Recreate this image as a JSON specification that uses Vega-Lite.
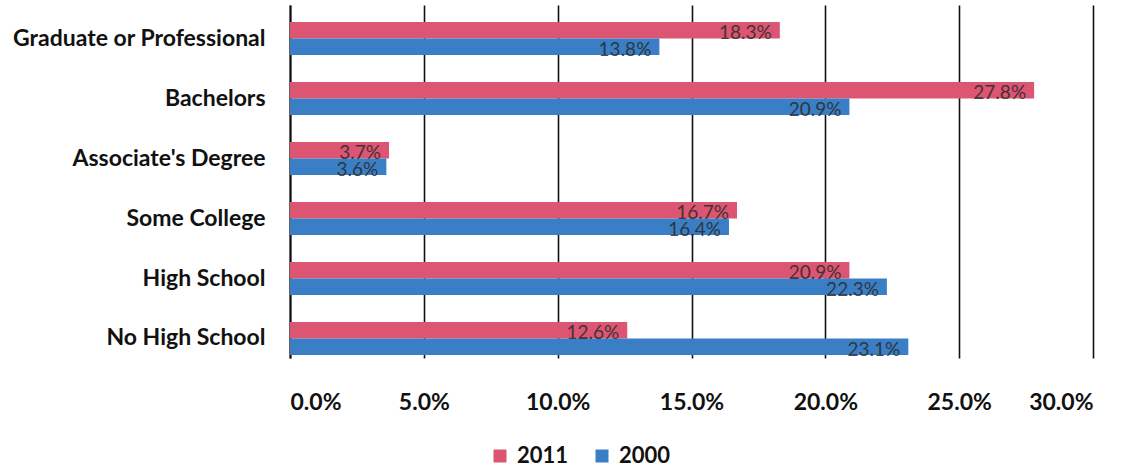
{
  "$schema": "https://vega.github.io/schema/vega-lite/v6.json",
  "width": 803,
  "height": 353,
  "padding": {"left": 5, "top": 5, "right": 30, "bottom": 0},
  "background": "white",
  "config": {
    "view": {"stroke": null},
    "font": "Lato"
  },
  "data": {
    "values": [
      {"level": "Graduate or Professional", "year": "2011", "pct": 0.183},
      {"level": "Graduate or Professional", "year": "2000", "pct": 0.138},
      {"level": "Bachelors", "year": "2011", "pct": 0.278},
      {"level": "Bachelors", "year": "2000", "pct": 0.209},
      {"level": "Associate's Degree", "year": "2011", "pct": 0.037},
      {"level": "Associate's Degree", "year": "2000", "pct": 0.036},
      {"level": "Some College", "year": "2011", "pct": 0.167},
      {"level": "Some College", "year": "2000", "pct": 0.164},
      {"level": "High School", "year": "2011", "pct": 0.209},
      {"level": "High School", "year": "2000", "pct": 0.223},
      {"level": "No High School", "year": "2011", "pct": 0.126},
      {"level": "No High School", "year": "2000", "pct": 0.231}
    ]
  },
  "encoding": {
    "y": {
      "field": "level",
      "type": "nominal",
      "sort": ["Graduate or Professional", "Bachelors", "Associate's Degree", "Some College", "High School", "No High School"],
      "scale": {"paddingInner": 0.45, "paddingOuter": 0.167, "align": 0.85},
      "axis": {
        "title": null,
        "ticks": false,
        "domain": true,
        "domainColor": "#111",
        "domainWidth": 2,
        "labelFontSize": 23,
        "labelFontWeight": "bold",
        "labelColor": "#111",
        "labelPadding": 25,
        "minExtent": 285,
        "maxExtent": 285,
        "labelLimit": 300
      }
    },
    "yOffset": {"field": "year", "type": "nominal", "sort": ["2011", "2000"]},
    "x": {
      "field": "pct",
      "type": "quantitative",
      "scale": {"domain": [0, 0.3], "nice": false},
      "axis": {
        "title": null,
        "values": [0, 0.05, 0.1, 0.15, 0.2, 0.25, 0.3],
        "format": ".1%",
        "grid": true,
        "gridColor": "#111",
        "gridWidth": 1.6,
        "domain": false,
        "ticks": false,
        "labelFontSize": 23,
        "labelFontWeight": "bold",
        "labelColor": "#111",
        "labelPadding": 33
      }
    }
  },
  "layer": [
    {
      "mark": {"type": "bar", "strokeWidth": 1},
      "encoding": {
        "color": {
          "field": "year",
          "type": "nominal",
          "sort": ["2011", "2000"],
          "scale": {"domain": ["2011", "2000"], "range": ["#dc5673", "#3a7fc5"]},
          "legend": {
            "title": null,
            "orient": "none",
            "direction": "horizontal",
            "legendX": 199,
            "legendY": 440,
            "symbolType": "square",
            "symbolSize": 169,
            "symbolStrokeWidth": 0,
            "labelFontSize": 22,
            "labelFontWeight": "bold",
            "labelColor": "#111",
            "columnPadding": 22,
            "labelOffset": 6
          }
        }
      }
    },
    {
      "mark": {"type": "text", "align": "right", "baseline": "middle", "dx": -8, "dy": 3, "fontSize": 19, "color": "#2b2b2b", "opacity": 0.85},
      "encoding": {
        "text": {"field": "pct", "type": "quantitative", "format": ".1%"}
      }
    }
  ]
}
